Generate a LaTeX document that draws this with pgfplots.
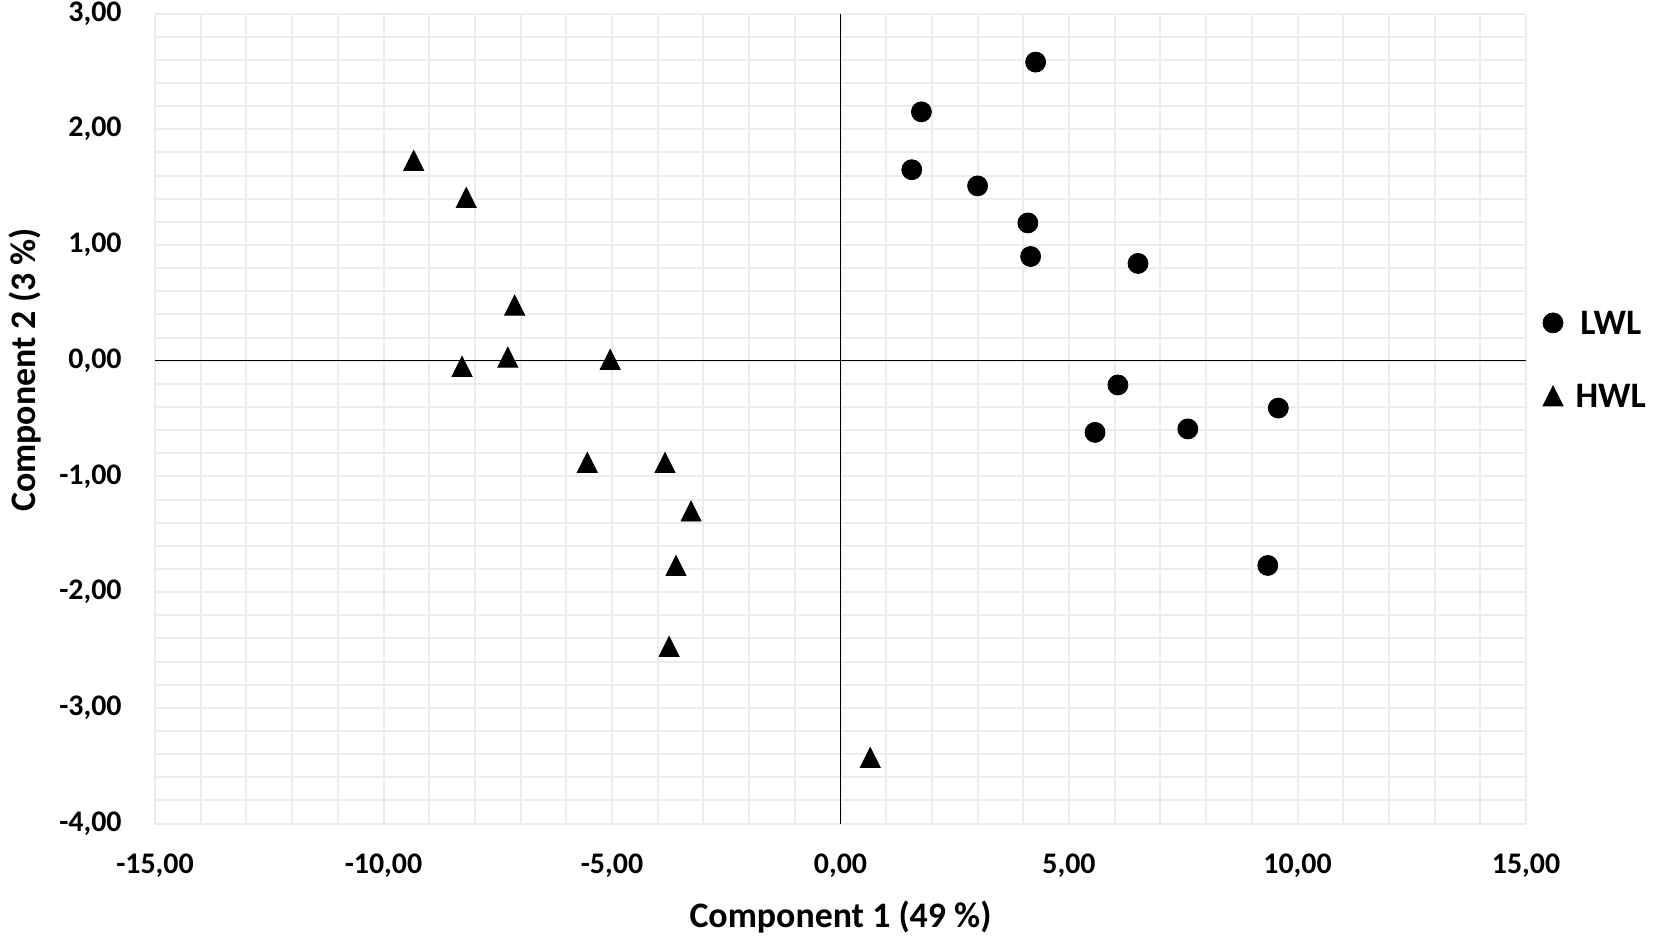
\documentclass[border=0pt]{standalone}
\usepackage{pgfplots}
\pgfplotsset{compat=1.18}
\usepackage{fontspec}
\setmainfont{Carlito}
\pgfdeclareplotmark{tri}{%
 \pgfpathmoveto{\pgfqpoint{0pt}{\pgfplotmarksize}}%
 \pgfpathlineto{\pgfqpoint{-\pgfplotmarksize}{-\pgfplotmarksize}}%
 \pgfpathlineto{\pgfqpoint{\pgfplotmarksize}{-\pgfplotmarksize}}%
 \pgfpathclose\pgfusepathqfillstroke}
\begin{document}
\begin{tikzpicture}
\path[use as bounding box] (-77.5bp,-60.25bp) rectangle (749bp,411.75bp);
\begin{axis}[
  at={(0,0)}, anchor=south west,
  width=685.5bp, height=405bp, scale only axis,
  xmin=-15, xmax=15, ymin=-4, ymax=3,
  xtick={-15,-10,...,15}, ytick={-4,-3,...,3},
  minor x tick num=4, minor y tick num=4,
  grid=both,
  major grid style={color=gray!15, line width=1bp},
  minor grid style={color=gray!15, line width=1bp},
  axis line style={draw=none},
  major tick length=0pt, minor tick length=0pt,
  /pgf/number format/.cd, fixed, fixed zerofill, precision=2, use comma, assume math mode=true,
  /pgfplots/.cd,
  xticklabel style={font=\bfseries\fontsize{15}{18}\selectfont, anchor=base, inner sep=0pt, yshift=-24.75bp},
  yticklabel style={font=\bfseries\fontsize{15}{18}\selectfont, anchor=east, inner sep=0pt, xshift=-16.5bp},
  xlabel={Component 1 (49 \%)},
  ylabel={Component 2 (3 \%)},
  xlabel style={font=\bfseries\fontsize{18}{21}\selectfont, at={(axis description cs:0.5,-0.1278)}, anchor=base, inner sep=0pt},
  ylabel style={font=\bfseries\fontsize{18}{21}\selectfont, at={(axis description cs:-0.0875,0.56)}, anchor=base, inner sep=0pt},
  legend style={draw=none, fill=none, at={(axis description cs:1,0.573)}, anchor=west, xshift=8.3bp,
    inner sep=0pt, row sep=24.5bp, column sep=6.3bp,
    font=\bfseries\fontsize{18}{21}\selectfont,
    nodes={inner sep=0pt, anchor=base, text height=12bp, text depth=0pt}},
  legend cell align=left,
  legend image code/.code={\draw[#1] plot coordinates {(0bp,6bp)};},
]
\addplot[black, line width=0.75bp, forget plot] coordinates {(0,-4) (0,3)};
\addplot[black, line width=0.75bp, forget plot] coordinates {(-15,0) (15,0)};
\addplot[only marks, mark=*, mark size=5bp, draw=black, fill=black] coordinates {
(4.27,2.58) (1.77,2.15) (1.56,1.65) (3.00,1.51) (4.10,1.19) (4.16,0.90)
(6.51,0.84) (6.07,-0.21) (9.58,-0.41) (5.57,-0.62) (7.60,-0.59) (9.35,-1.77)
};
\addlegendentry{LWL}
\addplot[only marks, mark=tri, mark size=5bp, draw=black, fill=black] coordinates {
(-9.34,1.73) (-8.19,1.41) (-7.13,0.48) (-8.28,-0.05) (-7.28,0.03) (-5.04,0.01)
(-5.54,-0.88) (-3.84,-0.88) (-3.27,-1.30) (-3.60,-1.77) (-3.75,-2.47) (0.65,-3.43)
};
\addlegendentry{HWL}
\end{axis}
\end{tikzpicture}
\end{document}
